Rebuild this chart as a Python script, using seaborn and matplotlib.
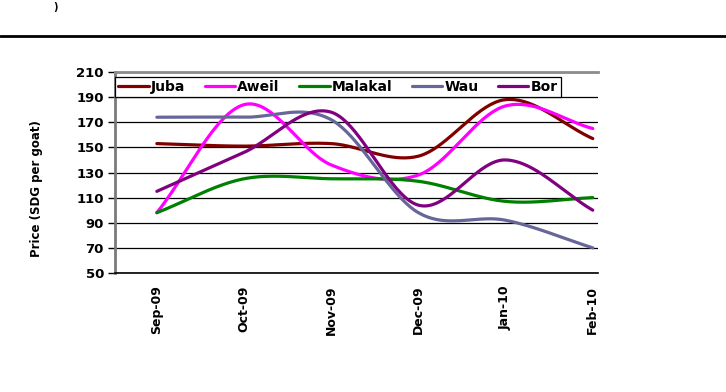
import numpy as np
import pandas as pd
import seaborn as sns
import matplotlib
matplotlib.use("Agg")
import matplotlib.pyplot as plt

months = ["Sep-09", "Oct-09", "Nov-09", "Dec-09", "Jan-10", "Feb-10"]
juba = [153, 151, 153, 143, 188, 157]
aweil = [98, 184, 136, 128, 183, 165]
malakal = [98, 125, 125, 123, 107, 110]
wau = [174, 174, 172, 98, 92, 70]
bor = [115, 146, 178, 104, 140, 100]

markets = ["Juba", "Aweil", "Malakal", "Wau", "Bor"]
colors = ["#800000", "#FF00FF", "#008000", "#666699", "#800080"]
series = [juba, aweil, malakal, wau, bor]


def smooth(values, steps=40):
    """Catmull-Rom curve through the monthly prices (Excel-style smoothed line)."""
    y = np.asarray(values, dtype=float)
    n = len(y)
    slopes = np.empty(n)
    slopes[0] = y[1] - y[0]
    slopes[-1] = y[-1] - y[-2]
    slopes[1:-1] = (y[2:] - y[:-2]) / 2.0
    xs, ys = [], []
    for i in range(n - 1):
        t = np.linspace(0, 1, steps, endpoint=(i == n - 2))
        h00 = 2 * t**3 - 3 * t**2 + 1
        h10 = t**3 - 2 * t**2 + t
        h01 = -2 * t**3 + 3 * t**2
        h11 = t**3 - t**2
        xs.append(i + t)
        ys.append(h00 * y[i] + h10 * slopes[i] + h01 * y[i + 1] + h11 * slopes[i + 1])
    return np.concatenate(xs), np.concatenate(ys)


frames = []
for name, vals in zip(markets, series):
    sx, sy = smooth(vals)
    frames.append(pd.DataFrame({"pos": sx, "price": sy, "market": name}))
df = pd.concat(frames, ignore_index=True)

sns.set_theme(style="white")
plt.rcParams["font.family"] = ["DejaVu Sans"]
plt.rcParams["font.weight"] = "bold"
plt.rcParams["text.color"] = "black"
plt.rcParams["xtick.color"] = "black"
plt.rcParams["ytick.color"] = "black"

fig = plt.figure(figsize=(7.26, 3.92), dpi=100)
ax = fig.add_axes([115 / 726, 1 - 273 / 392, (598 - 115) / 726, (273 - 72) / 392])

sns.lineplot(data=df, x="pos", y="price", hue="market", hue_order=markets,
             palette=colors, linewidth=2.3, sort=False, estimator=None, ax=ax)

ax.set_xlim(-0.48, 5.06)
ax.set_ylim(50, 210)
ax.set_yticks(np.arange(50, 211, 20))
ax.yaxis.grid(True, color="black", linewidth=0.9)
ax.set_axisbelow(True)

ax.set_xticks(range(len(months)))
ax.set_xticklabels(months, rotation=90, fontsize=9, fontweight="bold", color="black")
ax.set_xticks(np.arange(-0.48, 4.6, 1.0), minor=True)
ax.tick_params(axis="x", which="major", length=0, pad=9)
ax.tick_params(axis="x", which="minor", length=5, width=1.2, color="black", direction="out")
ax.tick_params(axis="y", length=5, width=1, color="black", direction="out",
               labelsize=9.5, pad=3, labelcolor="black")
for lab in ax.get_yticklabels():
    lab.set_fontweight("bold")
ax.tick_params(bottom=True, left=True)

ax.set_xlabel("")
ax.set_ylabel("")

ax.spines["right"].set_visible(False)
ax.spines["top"].set_color("#8c8c8c")
ax.spines["top"].set_linewidth(2)
ax.spines["left"].set_color("#7a7a7a")
ax.spines["left"].set_linewidth(2)
ax.spines["bottom"].set_color("black")
ax.spines["bottom"].set_linewidth(1.2)

handles, labels = ax.get_legend_handles_labels()
leg = ax.legend(handles, labels, loc="upper left", bbox_to_anchor=(0.0, (273 - 77) / 201),
                ncol=5, frameon=True, fancybox=False, framealpha=1, edgecolor="black",
                fontsize=10, handlelength=2.2, handletextpad=0.15, columnspacing=1.4,
                borderpad=0.22, borderaxespad=0)
leg.get_frame().set_linewidth(0.9)
for t in leg.get_texts():
    t.set_fontweight("bold")
    t.set_color("black")

fig.text(37 / 726, 1 - 189 / 392, "Price (SDG per goat)", rotation=90,
         ha="center", va="center", fontsize=8.5, fontweight="bold", color="black")

# rule under the page header
fig.add_artist(plt.Line2D([0, 1], [1 - 36 / 392, 1 - 36 / 392], color="black", linewidth=2))
fig.text(55 / 726, 1 - 7 / 392, ")", fontsize=7, fontweight="bold",
         ha="center", va="center", color="black")

fig.savefig("out.png", dpi=100)
